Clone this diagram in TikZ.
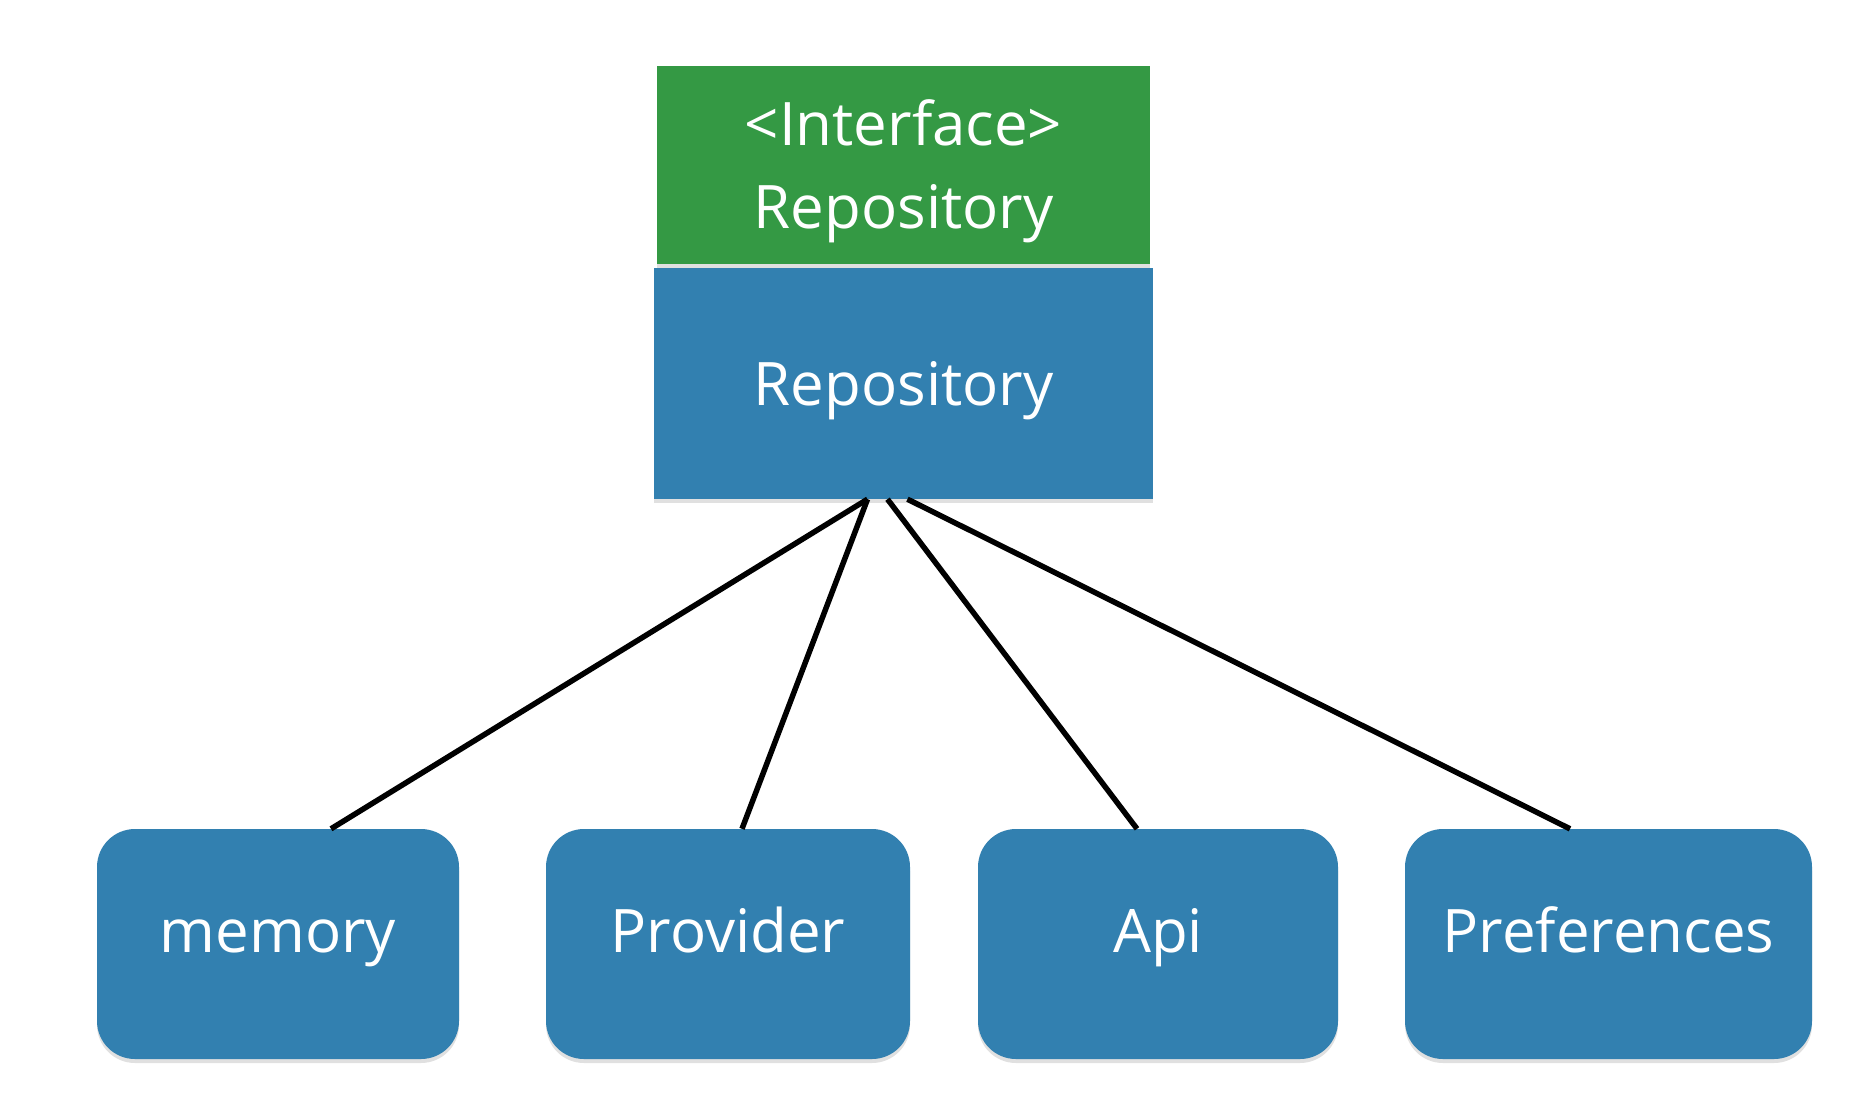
\documentclass[tikz,border=0pt]{standalone}
\usepackage{fontspec}
\setmainfont{Open Sans}
\usetikzlibrary{shadows}
\definecolor{boxgreen}{RGB}{52,153,68}
\definecolor{boxblue}{RGB}{50,128,176}
\begin{document}
\begin{tikzpicture}[x=1pt,y=-1pt,
  boxshadow/.style={drop shadow={shadow xshift=0pt,shadow yshift=-4pt,opacity=0.12,fill=black}},
  labeltext/.style={text=white,font=\fontsize{60}{83}\selectfont,align=center,inner sep=0pt},
  ifacebox/.style={labeltext,fill=boxgreen,boxshadow,minimum width=493pt,minimum height=198pt,text height=126pt,text depth=0pt},
  implbox/.style={labeltext,fill=boxblue,boxshadow,minimum width=499pt,minimum height=231pt,text height=43pt,text depth=0pt},
  leafbox/.style={labeltext,fill=boxblue,boxshadow,rounded corners=38pt,minimum height=230pt,text height=16pt,text depth=0pt},
  link/.style={line width=5.5pt,black}]
\useasboundingbox[fill=white] (0,0) rectangle (1850,1104);
\node[ifacebox] (iface) at (903.5,165) {<Interface>\\Repository};
\node[implbox] (repo) at (903.5,383.5) {Repository};
\node[leafbox,minimum width=362pt] (mem) at (278,944) {memory};
\node[leafbox,minimum width=364pt] (prov) at (728,944) {Provider};
\node[leafbox,minimum width=360pt] (api) at (1158,944) {Api};
\node[leafbox,minimum width=407pt] (pref) at (1608.5,944) {Preferences};
\draw[link] ([xshift=-36pt]repo.south) -- ([xshift=53pt]mem.north);
\draw[link] ([xshift=-36pt]repo.south) -- ([xshift=14pt]prov.north);
\draw[link] ([xshift=-16pt]repo.south) -- ([xshift=-21pt]api.north);
\draw[link] ([xshift=4pt]repo.south) -- ([xshift=-38.5pt]pref.north);
\end{tikzpicture}
\end{document}
